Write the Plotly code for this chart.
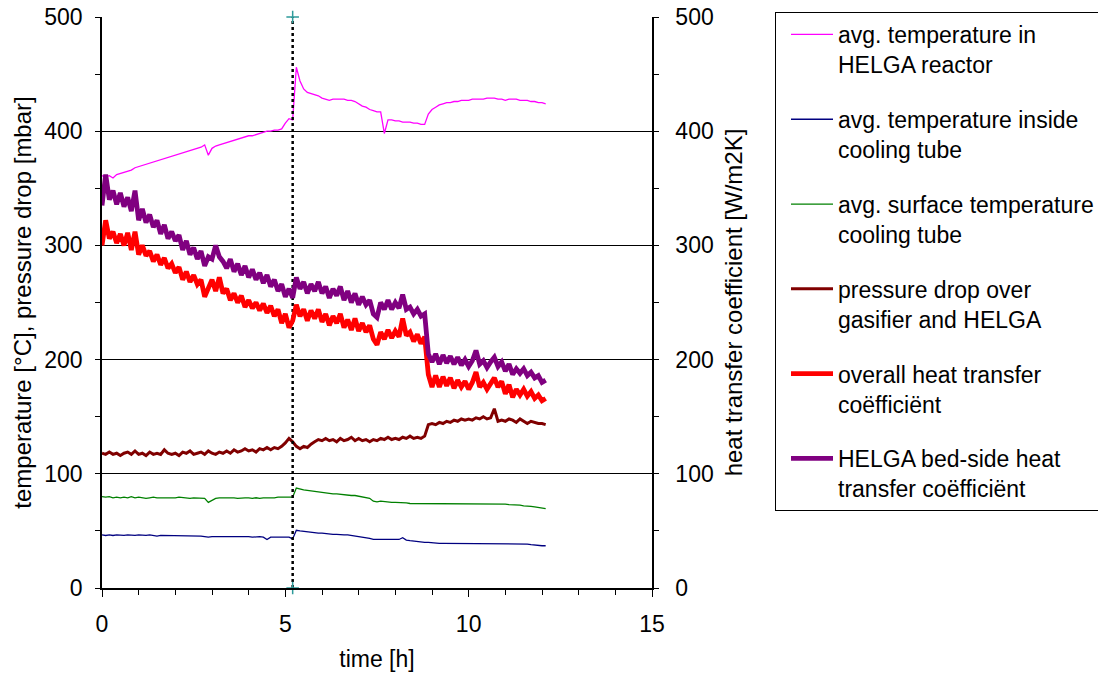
import plotly.graph_objects as go

# ---------------- data ----------------
time_h = [0.0, 0.1, 0.2, 0.3, 0.4, 0.5, 0.6, 0.7, 0.8, 0.9,
          1.0, 1.1, 1.2, 1.3, 1.4, 1.5, 1.6, 1.7, 1.8, 1.9,
          2.0, 2.1, 2.2, 2.3, 2.4, 2.5, 2.6, 2.7, 2.8, 2.9,
          3.0, 3.1, 3.2, 3.3, 3.4, 3.5, 3.6, 3.7, 3.8, 3.9,
          4.0, 4.1, 4.2, 4.3, 4.4, 4.5, 4.6, 4.7, 4.8, 4.9,
          5.0, 5.1, 5.2, 5.3, 5.4, 5.5, 5.6, 5.7, 5.8, 5.9,
          6.0, 6.1, 6.2, 6.3, 6.4, 6.5, 6.6, 6.7, 6.8, 6.9,
          7.0, 7.1, 7.2, 7.3, 7.4, 7.5, 7.6, 7.7, 7.8, 7.9,
          8.0, 8.1, 8.2, 8.3, 8.4, 8.5, 8.6, 8.7, 8.8, 8.9,
          9.0, 9.1, 9.2, 9.3, 9.4, 9.5, 9.6, 9.7, 9.8, 9.9,
          10.0, 10.1, 10.2, 10.3, 10.4, 10.5, 10.6, 10.7, 10.8, 10.9,
          11.0, 11.1, 11.2, 11.3, 11.4, 11.5, 11.6, 11.7, 11.8, 11.9,
          12.0, 12.1]

temp_reactor = [361, 360, 361, 359, 362, 363, 364, 365, 366, 368,
                369, 370, 371, 372, 373, 374, 375, 376, 377, 378,
                379, 380, 381, 382, 383, 384, 385, 386, 388, 379,
                385, 387, 388, 389, 390, 391, 392, 393, 394, 395,
                396, 396, 397, 398, 399, 400, 400, 401, 401, 402,
                407, 411, 410, 456, 444, 437, 434, 433, 432, 431,
                429, 428, 427, 428, 428, 428, 428, 427, 427, 426,
                424, 422, 421, 419, 418, 417, 417, 398, 410, 410,
                409, 409, 408, 408, 408, 407, 407, 406, 406, 415,
                419, 421, 423, 424, 425, 425, 426, 426, 427, 427,
                427, 428, 428, 428, 428, 429, 429, 429, 428, 428,
                427, 428, 428, 428, 427, 427, 427, 426, 426, 425,
                425, 424]

temp_inside_tube = [46.5, 46, 46.5, 46, 46.5, 46, 46, 46.5, 46, 46,
                    46.5, 46, 46, 46.5, 46, 45.5, 46, 46, 45.5, 46,
                    46, 45.5, 46, 45.5, 45.5, 46, 45.5, 45.5, 45, 44.5,
                    45, 45, 45.5, 45, 45, 45.5, 45, 45, 45.5, 45,
                    45, 44.5, 45, 45, 44.5, 42.5, 44.5, 44.5, 44, 44.5,
                    44, 44.5, 43, 50.5, 50, 49.5, 49, 48.5, 48.5, 48,
                    48, 47.5, 47.5, 47, 47, 46.5, 46.5, 46.5, 46, 46,
                    45.5, 45, 44.5, 43.5, 42.5, 42.5, 42.5, 43, 42.5, 43,
                    43, 42.5, 44, 42, 41.5, 41, 40.5, 40.5, 40, 40,
                    39.5, 39.5, 39, 39, 39, 38.5, 38.5, 38.5, 38.5, 38.5,
                    39, 39, 39, 39, 39, 39, 39, 39, 39, 39,
                    39, 38.5, 39, 38.5, 38.5, 38.5, 38.5, 38, 37.5, 37.5,
                    37, 37]

temp_surface_tube = [80, 79.5, 80, 79, 79.5, 79, 79.5, 79, 80, 79,
                     79.5, 79, 78.5, 79, 79.5, 79, 79, 78.5, 79, 79,
                     79, 79.5, 79, 79, 78.5, 79, 79, 79, 78.5, 75,
                     77, 78.5, 79, 79, 79.5, 79, 79, 78.5, 79, 79,
                     79, 78.5, 79, 78.5, 79, 79, 78.5, 79, 79.5, 79.5,
                     79.5, 80, 79.5, 87.5, 86.5, 86, 85.5, 85, 84.5, 84,
                     83.5, 83, 83, 82.5, 82.5, 82, 82, 81.5, 81, 81,
                     80.5, 80, 79.5, 78.5, 76, 75.5, 76, 75.5, 75.5, 75,
                     75, 75, 74.5, 74.5, 74, 74, 74, 73.5, 73.5, 73.5,
                     73.5, 73.5, 73.5, 73.5, 74, 73.5, 73.5, 74, 73.5, 74,
                     74, 73.5, 74, 74, 73.5, 74, 73.5, 74, 73.5, 73.5,
                     73.5, 73, 73, 72.5, 72.5, 72, 72, 71.5, 71, 70.5,
                     70, 69.5]

pressure_drop = [118, 117, 119, 117, 118, 116, 118, 119, 117, 120,
                 117, 118, 116, 119, 117, 118, 117, 121, 118, 117,
                 118, 116, 119, 118, 120, 117, 118, 119, 117, 120,
                 118, 117, 119, 118, 120, 118, 121, 119, 120, 122,
                 120, 121, 119, 122, 121, 123, 121, 123, 122, 124,
                 127, 131, 128, 124, 122, 124, 123, 126, 128, 130,
                 129, 131, 129, 130, 128, 131, 129, 130, 132, 129,
                 131, 129, 130, 128, 130, 129, 131, 130, 132, 130,
                 131, 130, 132, 131, 133, 131, 132, 131, 133, 143,
                 144, 143, 145, 144, 146, 145, 147, 146, 148, 147,
                 148, 147, 149, 148, 150, 148, 149, 157, 146, 147,
                 146, 148, 147, 145, 148, 146, 144, 146, 145, 144,
                 144, 143]

htc_overall = [300, 322, 306, 312, 302, 310, 300, 311, 296, 312,
               292, 300, 291, 295, 286, 292, 283, 289, 280, 284,
               276, 281, 270, 277, 268, 274, 266, 270, 255, 262,
               270, 260, 272, 258, 262, 252, 258, 250, 256, 246,
               252, 245, 250, 243, 249, 241, 247, 238, 244, 232,
               240, 228, 234, 248, 238, 244, 234, 243, 236, 244,
               233, 240, 230, 238, 232, 240, 228, 235, 226, 236,
               225, 232, 224, 230, 218, 213, 224, 218, 226, 219,
               225, 220, 236, 221, 224, 216, 222, 214, 220, 187,
               176, 186, 176, 185, 177, 184, 175, 182, 176, 181,
               174, 180, 189, 176, 180, 174, 180, 184, 176, 181,
               170, 178, 167, 174, 169, 174, 168, 172, 166, 169,
               164, 166]

htc_bed_side = [335, 362, 340, 348, 336, 346, 334, 342, 330, 348,
                322, 332, 320, 327, 316, 322, 310, 318, 306, 312,
                304, 309, 296, 304, 292, 298, 288, 295, 282, 290,
                288, 300, 290, 286, 280, 288, 277, 284, 274, 282,
                272, 279, 270, 276, 267, 274, 264, 270, 260, 266,
                255, 262, 254, 272, 262, 268, 258, 266, 260, 268,
                258, 264, 254, 262, 256, 264, 252, 260, 250, 258,
                248, 255, 248, 252, 240, 237, 250, 244, 252, 244,
                250, 245, 257, 244, 246, 240, 244, 238, 240, 205,
                198, 205, 196, 204, 197, 203, 196, 202, 195, 200,
                194, 199, 208, 196, 199, 193, 198, 202, 194, 198,
                190, 196, 187, 192, 188, 192, 186, 189, 184, 186,
                180, 182]

marker_time = [5.2, 5.2]
marker_range = [0, 500]

series_names = [
    "avg. temperature in<br>HELGA reactor",
    "avg. temperature inside<br>cooling tube",
    "avg. surface temperature<br>cooling tube",
    "pressure drop over<br>gasifier and HELGA",
    "overall heat transfer<br>coëfficiënt",
    "HELGA bed-side heat<br>transfer coëfficiënt",
]

# ---------------- figure ----------------
FONT = "Liberation Sans, Arial, sans-serif"
fig = go.Figure()

specs = [
    (temp_reactor, "#FF00FF", 1.3, "y"),
    (temp_inside_tube, "#000080", 1.3, "y"),
    (temp_surface_tube, "#008000", 1.3, "y"),
    (pressure_drop, "#800000", 3.0, "y"),
    (htc_overall, "#FF0000", 4.8, "y2"),
    (htc_bed_side, "#800080", 4.8, "y2"),
]
for i, (vals, col, w, ax) in enumerate(specs):
    fig.add_trace(go.Scatter(
        x=time_h, y=vals, mode="lines", name=series_names[i],
        line=dict(color=col, width=w), yaxis=ax,
        legendgroup="g%d" % i,
    ))

fig.add_trace(go.Scatter(
    x=marker_time, y=marker_range, mode="lines+markers",
    line=dict(color="black", width=2.5, dash="dot"),
    marker=dict(symbol="cross-thin", size=9, line=dict(color="#2E9B9B", width=1.5)),
    showlegend=False, cliponaxis=False,
))

axis_common = dict(
    showline=True, linecolor="black", linewidth=1.5,
    ticks="outside", tickcolor="black", tickwidth=1.2,
    tickfont=dict(family=FONT, size=23, color="black"),
    zeroline=False,
)

fig.update_layout(
    width=1098, height=679,
    margin=dict(l=102, r=446, t=17, b=91, autoexpand=False),
    paper_bgcolor="white", plot_bgcolor="white",
    font=dict(family=FONT, color="black"),
    xaxis=dict(
        range=[0, 15], tick0=0, dtick=5, ticklen=7, showgrid=False,
        minor=dict(dtick=1, ticks="outside", ticklen=5, tickcolor="black", tickwidth=1.2),
        title=dict(text="time [h]", font=dict(family=FONT, size=23, color="black"), standoff=15),
        ticklabelstandoff=8,
        **axis_common,
    ),
    yaxis=dict(
        range=[0, 500], tick0=0, dtick=100, ticklen=5,
        showgrid=True, gridcolor="black", gridwidth=1,
        minor=dict(dtick=50, ticks="outside", ticklen=5, tickcolor="black", tickwidth=1.2, showgrid=False),
        title=dict(text="temperature [°C], pressure drop [mbar]", font=dict(family=FONT, size=24, color="black"), standoff=6),
        ticklabelstandoff=8,
        **axis_common,
    ),
    yaxis2=dict(
        range=[0, 500], tick0=0, dtick=100, ticklen=5, overlaying="y", side="right",
        showgrid=False,
        minor=dict(dtick=50, ticks="outside", ticklen=5, tickcolor="black", tickwidth=1.2, showgrid=False),
        title=dict(text="heat transfer coefficient [W/m2K]", font=dict(family=FONT, size=24, color="black"), standoff=12),
        ticklabelstandoff=12,
        **axis_common,
    ),
    legend=dict(
        xref="container", yref="container",
        x=775 / 1098, y=1 - 12 / 679, xanchor="left", yanchor="top",
        bgcolor="white", bordercolor="black", borderwidth=1,
        font=dict(family=FONT, size=23, color="black"),
        tracegroupgap=22, valign="top", itemwidth=42, indentation=10,
        traceorder="grouped", maxheight=600,
    ),
)

fig.write_html("out.html")
